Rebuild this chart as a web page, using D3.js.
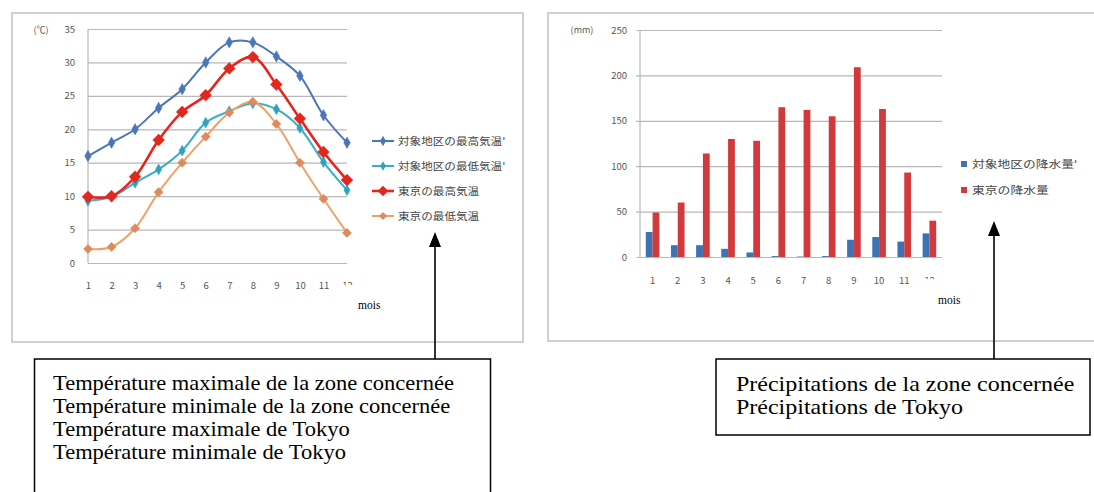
<!DOCTYPE html>
<html><head><meta charset="utf-8">
<script src="https://cdn.jsdelivr.net/npm/d3@7/dist/d3.min.js"></script>
<style>
html,body{margin:0;padding:0;background:#fff;}
svg{display:block;}
</style></head>
<body>
<svg id="c" width="1094" height="492"></svg>
<script>
// ---------- data ----------
const months = [1,2,3,4,5,6,7,8,9,10,11,12];
const tempTicks = [0,5,10,15,20,25,30,35];
const rainTicks = [0,50,100,150,200,250];

const tMaxZone  = [16,18,20,23.2,26,30,33,33,30.9,28,22.1,18];
const tMinZone  = [9.3,9.9,12,14,16.8,21,22.7,23.9,23,20.2,15.1,10.9];
const tMaxTokyo = [9.9,10,12.9,18.4,22.6,25.1,29.1,30.8,26.7,21.6,16.6,12.4];
const tMinTokyo = [2.1,2.4,5.2,10.6,15,18.9,22.5,24.1,20.8,15,9.6,4.5];

const rainZone  = [27.5,13,13,9,5,1,0.5,1,19,22,17,26];
const rainTokyo = [49,60,114,130,128,165,162,155,209,163,93,40];

const tempLegend = ["対象地区の最高気温'","対象地区の最低気温'","東京の最高気温","東京の最低気温"];
const rainLegend = ["対象地区の降水量'","東京の降水量"];
const tempNotes = ["Température maximale de la zone concernée","Température minimale de la zone concernée","Température maximale de Tokyo","Température minimale de Tokyo"];
const rainNotes = ["Précipitations de la zone concernée","Précipitations de Tokyo"];
const xUnit = "mois";
const tempUnit = "(℃)";
const rainUnit = "(mm)";

// ---------- drawing ----------
const svg = d3.select("#c");
const CJK = "'Noto Sans CJK JP', sans-serif";
const gridC = "#b8b8b8", textC = "#555";

// panels
svg.append("rect").attr("x",12).attr("y",13).attr("width",511).attr("height",329)
  .attr("fill","#fff").attr("stroke","#c4c4c4").attr("stroke-width",1.6);
svg.append("rect").attr("x",548).attr("y",13).attr("width",560).attr("height",328)
  .attr("fill","#fff").attr("stroke","#c4c4c4").attr("stroke-width",1.6);

// ===== left: temperature =====
const xT = d3.scalePoint().domain(months).range([88,347]);
const yT = d3.scaleLinear().domain([0,35]).range([263,29]);
const gL = svg.append("g");
gL.append("g").attr("transform","translate(88,0)")
  .call(d3.axisLeft(yT).tickValues(tempTicks).tickSize(-259).tickPadding(13))
  .call(g=>{g.select(".domain").remove();
    g.selectAll(".tick line").attr("stroke",gridC).attr("stroke-width",1.2);
    g.selectAll(".tick text").attr("fill",textC).attr("font-size",9.5).attr("font-family",CJK);});
gL.append("line").attr("x1",88).attr("x2",88).attr("y1",yT(35)).attr("y2",yT(0)).attr("stroke",gridC).attr("stroke-width",1.2);
gL.append("g").attr("transform","translate(0,263)")
  .call(d3.axisBottom(xT).tickSize(0).tickPadding(19))
  .call(g=>{g.select(".domain").remove();
    g.selectAll(".tick text").attr("fill",textC).attr("font-size",9.5).attr("font-family",CJK);});
gL.append("text").attr("x",41).attr("y",33).attr("text-anchor","middle").attr("font-size",9)
  .attr("font-family",CJK).attr("fill",textC).text(tempUnit);

const tSeries = [
  {vals:tMaxZone, line:"#4a76b8", mark:"#4a76b8", w:2, sym:d3.symbolDiamond, size:38},
  {vals:tMinZone, line:"#3aaec8", mark:"#2ea3c0", w:2, sym:d3.symbolDiamond, size:34},
  {vals:tMaxTokyo, line:"#e8231c", mark:"#e0281e", w:2.6, sym:d3.symbolSquare, size:70},
  {vals:tMinTokyo, line:"#f2a066", mark:"#dc8a5e", w:2, sym:d3.symbolSquare, size:42},
];
const lineGen = d3.line().x((d,i)=>xT(months[i])).y(d=>yT(d)).curve(d3.curveCatmullRom.alpha(0.5));
tSeries.forEach(s=>{
  gL.append("path").attr("d",lineGen(s.vals)).attr("fill","none").attr("stroke",s.line).attr("stroke-width",s.w);
});
tSeries.forEach(s=>{
  gL.selectAll(null).data(s.vals).enter().append("path")
    .attr("transform",(d,i)=>`translate(${xT(months[i])},${yT(d)})${s.sym===d3.symbolSquare?" rotate(45)":""}`)
    .attr("d",d3.symbol().type(s.sym).size(s.size)).attr("fill",s.mark).attr("stroke",s.mark).attr("stroke-width",0.5);
});
// legend
const legY = [141,166,191,216];
tSeries.forEach((s,i)=>{
  const y = legY[i];
  gL.append("line").attr("x1",372).attr("x2",394).attr("y1",y).attr("y2",y).attr("stroke",s.line).attr("stroke-width",s.w);
  gL.append("path").attr("transform",`translate(383,${y})${s.sym===d3.symbolSquare?" rotate(45)":""}`)
    .attr("d",d3.symbol().type(s.sym).size(s.size*0.8)).attr("fill",s.mark);
  const t = tempLegend[i];
  gL.append("text").attr("x",398).attr("y",y+3.5).attr("font-size",10).attr("font-family",CJK)
    .attr("fill","#444").attr("textLength",(t.replace("'","").length)*11.6 + (t.includes("'")?3:0))
    .attr("lengthAdjust","spacingAndGlyphs").text(t);
});
// unit box covering part of last label
gL.append("rect").attr("x",341).attr("y",285).attr("width",90).attr("height",35).attr("fill","#fff");
gL.append("text").attr("x",358).attr("y",309).attr("font-family","'Liberation Serif', serif").attr("font-size",11.5)
  .attr("fill","#000").text(xUnit);

// ===== right: precipitation =====
const xR = d3.scaleBand().domain(months).range([640,942]).paddingInner(0.46).paddingOuter(0.23);
const xR2 = d3.scaleBand().domain([0,1]).range([0,xR.bandwidth()]);
const yR = d3.scaleLinear().domain([0,250]).range([257,30]);
const gR = svg.append("g");
gR.append("g").attr("transform","translate(640,0)")
  .call(d3.axisLeft(yR).tickValues(rainTicks).tickSize(-302).tickPadding(13))
  .call(g=>{g.select(".domain").remove();
    g.selectAll(".tick line").attr("stroke",gridC).attr("stroke-width",1.2).attr("x1",-4);
    g.selectAll(".tick text").attr("fill",textC).attr("font-size",9.5).attr("font-family",CJK);});
gR.append("line").attr("x1",640).attr("x2",640).attr("y1",yR(250)).attr("y2",yR(0)).attr("stroke",gridC).attr("stroke-width",1.2);
gR.append("g").attr("transform","translate(0,257)")
  .call(d3.axisBottom(xR).tickSize(0).tickPadding(20))
  .call(g=>{g.select(".domain").remove();
    g.selectAll(".tick text").attr("fill",textC).attr("font-size",9.5).attr("font-family",CJK);});
gR.append("text").attr("x",582).attr("y",33).attr("text-anchor","middle").attr("font-size",9)
  .attr("font-family",CJK).attr("fill",textC).text(rainUnit);

const rSeries = [{vals:rainZone,color:"#3d73b2"},{vals:rainTokyo,color:"#d03a3c"}];
rSeries.forEach((s,k)=>{
  gR.selectAll(null).data(s.vals).enter().append("rect")
    .attr("x",(d,i)=>xR(months[i])+xR2(k)).attr("width",xR2.bandwidth())
    .attr("y",d=>yR(d)).attr("height",d=>yR(0)-yR(d)).attr("fill",s.color);
});
const rLegY = [164,190];
rSeries.forEach((s,i)=>{
  const y = rLegY[i];
  gR.append("rect").attr("x",961).attr("y",y-3).attr("width",6).attr("height",6).attr("fill",s.color);
  const t = rainLegend[i];
  gR.append("text").attr("x",972).attr("y",y+3.5).attr("font-size",10).attr("font-family",CJK)
    .attr("fill","#444").attr("textLength",(t.replace("'","").length)*12.8 + (t.includes("'")?3:0))
    .attr("lengthAdjust","spacingAndGlyphs").text(t);
});
gR.append("rect").attr("x",918).attr("y",279).attr("width",75).attr("height",38).attr("fill","#fff");
gR.append("text").attr("x",938).attr("y",304).attr("font-family","'Liberation Serif', serif").attr("font-size",11.5)
  .attr("fill","#000").text(xUnit);

// ===== annotations =====
function arrow(x, tip, base, end){
  svg.append("line").attr("x1",x).attr("x2",x).attr("y1",base-1).attr("y2",end).attr("stroke","#000").attr("stroke-width",1.6);
  svg.append("path").attr("d",`M${x},${tip}L${x-6},${base}L${x+6},${base}Z`).attr("fill","#000");
}
arrow(435,232,247,359);
arrow(994,221,236,359);

svg.append("rect").attr("x",34.5).attr("y",359).attr("width",456).attr("height",150)
  .attr("fill","none").attr("stroke","#000").attr("stroke-width",1.5);
svg.append("rect").attr("x",716).attr("y",359).attr("width",374).attr("height",76)
  .attr("fill","none").attr("stroke","#000").attr("stroke-width",1.5);
const serif = "'Liberation Serif','Times New Roman',serif";
function notes(arr, x, y0, sx){
  svg.append("g").attr("transform",`translate(${x},0) scale(${sx},1)`)
    .selectAll("text").data(arr).enter().append("text")
    .attr("x",0).attr("y",(d,i)=>y0+i*23).attr("font-family",serif).attr("font-size",20).attr("fill","#000").text(d=>d);
}
notes(tempNotes,53,390,1.125);
notes(rainNotes,736,391,1.2);
</script>
</body></html>
